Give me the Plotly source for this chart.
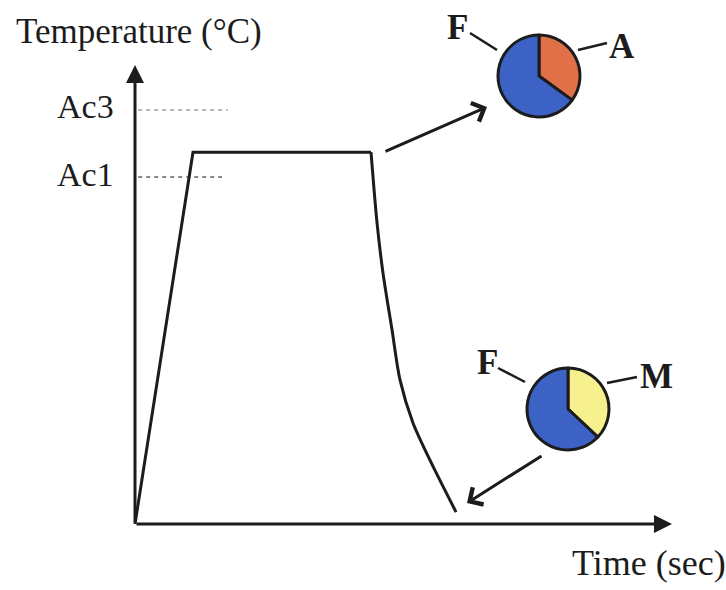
import plotly.graph_objects as go

# ---------------- data (arbitrary time / temperature units) ----------------
time_pts = [0, 10.8, 43.95, 45.07, 46.18, 47.86, 49.35, 51.77, 54.93, 59.78]
temp_pts = [0, 81.0, 81.0, 65.6, 54.7, 42.3, 31.4, 22.0, 13.9, 2.6]
n_heat = 3  # heating + holding points; the rest is the cooling branch

crit_names = ["Ac3", "Ac1"]
crit_temps = [90.2, 75.6]
crit_ends = [17.3, 16.2]
crit_colors = ["#a0a0a0", "#606060"]

pie1_labels = ["A", "F"]
pie1_values = [35, 65]
pie1_colors = ["#e07048", "#3d62c6"]

pie2_labels = ["M", "F"]
pie2_values = [37, 63]
pie2_colors = ["#f7f08e", "#3d62c6"]

axis_len = 100

# ---------------- layout helpers ----------------
W, H = 726, 590
OX, OY = 135, 524
SX, SY = 5.37, 4.59


def X(px):
    return (px - OX) / SX


def Y(py):
    return (OY - py) / SY


INK = "#1c1c1c"
FONT = "Liberation Serif"

fig = go.Figure()

# critical temperature dashed lines
for name, t, xe, c in zip(crit_names, crit_temps, crit_ends, crit_colors):
    fig.add_trace(go.Scatter(x=[0.6, xe], y=[t, t], mode="lines",
                             line=dict(color=c, width=1.5, dash="4px,4px"),
                             hoverinfo="skip", showlegend=False))

# heat treatment path: heating + holding (straight), cooling (smooth)
fig.add_trace(go.Scatter(x=time_pts[:n_heat], y=temp_pts[:n_heat], mode="lines",
                         line=dict(color=INK, width=3),
                         hoverinfo="skip", showlegend=False))
fig.add_trace(go.Scatter(x=time_pts[n_heat - 1:], y=temp_pts[n_heat - 1:], mode="lines",
                         line=dict(color=INK, width=3, shape="spline", smoothing=0.8),
                         hoverinfo="skip", showlegend=False))


def pie_domain(cx, cy, r):
    return dict(x=[(cx - r) / W, (cx + r) / W], y=[1 - (cy + r) / H, 1 - (cy - r) / H])


fig.add_trace(go.Pie(labels=pie1_labels, values=pie1_values, sort=False,
                     direction="clockwise", rotation=0, textinfo="none",
                     marker=dict(colors=pie1_colors, line=dict(color=INK, width=3)),
                     domain=pie_domain(539, 76, 41), showlegend=False, hoverinfo="skip"))
fig.add_trace(go.Pie(labels=pie2_labels, values=pie2_values, sort=False,
                     direction="clockwise", rotation=0, textinfo="none",
                     marker=dict(colors=pie2_colors, line=dict(color=INK, width=3)),
                     domain=pie_domain(568, 409, 41), showlegend=False, hoverinfo="skip"))

ann = []
# axes with arrows
ann.append(dict(x=0, y=axis_len, ax=0, ay=0, xref="x", yref="y", axref="x", ayref="y",
                showarrow=True, arrowhead=2, arrowsize=1.2, arrowwidth=3,
                arrowcolor=INK, text="", standoff=0, startstandoff=0))
ann.append(dict(x=axis_len, y=0, ax=0, ay=0, xref="x", yref="y", axref="x", ayref="y",
                showarrow=True, arrowhead=2, arrowsize=1.2, arrowwidth=3,
                arrowcolor=INK, text="", standoff=0, startstandoff=0))
# arrows to pies
ann.append(dict(x=X(487), y=Y(107), ax=X(384), ay=Y(152), xref="x", yref="y",
                axref="x", ayref="y", showarrow=True, arrowhead=4, arrowsize=1.3,
                arrowwidth=3, arrowcolor=INK, text=""))
ann.append(dict(x=X(467), y=Y(503), ax=X(543), ay=Y(455), xref="x", yref="y",
                axref="x", ayref="y", showarrow=True, arrowhead=4, arrowsize=1.3,
                arrowwidth=3, arrowcolor=INK, text=""))


def label(txt, px, py, size=33, xanchor="center", bold=False):
    if bold:
        txt = "<b>" + txt + "</b>"
    ann.append(dict(x=X(px), y=Y(py), xref="x", yref="y", text=txt, showarrow=False,
                    xanchor=xanchor, yanchor="middle",
                    font=dict(family=FONT, size=size, color=INK)))


label("Temperature (°C)", 139, 31, size=35)
label("Time (sec)", 649, 563, size=36)
for name, t in zip(crit_names, crit_temps):
    label(name, 116, OY - t * SY - 3, size=34, xanchor="right")
label("F", 457, 27, size=35, bold=True)
label(pie1_labels[0], 622, 46, size=35, bold=True)
label("F", 487, 362, size=35, bold=True)
label(pie2_labels[0], 656, 376, size=35, bold=True)

shapes = []
for (x0, y0, x1, y1) in [(470, 33, 497, 50), (578, 50, 607, 43),
                         (498, 368, 525, 382), (607, 383, 637, 377)]:
    shapes.append(dict(type="line", xref="x", yref="y", x0=X(x0), y0=Y(y0),
                       x1=X(x1), y1=Y(y1), line=dict(color=INK, width=2.5)))

fig.update_layout(
    width=W, height=H, margin=dict(l=0, r=0, t=0, b=0),
    paper_bgcolor="white", plot_bgcolor="white",
    xaxis=dict(range=[X(0), X(W)], visible=False, fixedrange=True),
    yaxis=dict(range=[Y(H), Y(0)], visible=False, fixedrange=True),
    annotations=ann, shapes=shapes,
)

fig.write_html("out.html")
